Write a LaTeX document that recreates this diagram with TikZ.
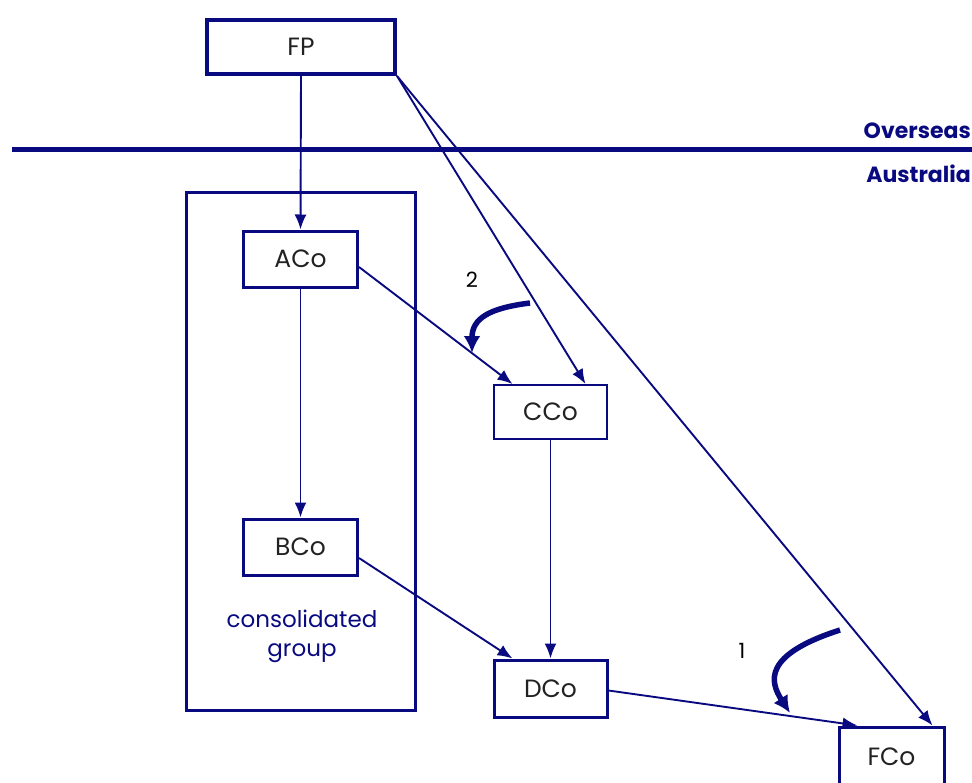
\documentclass[tikz,border=0pt]{standalone}
\usepackage{fontspec}
\setmainfont{Poppins}
\usetikzlibrary{arrows.meta}
\definecolor{navyline}{RGB}{10,10,128}
\definecolor{labeltext}{RGB}{34,34,34}

\begin{document}
\begin{tikzpicture}[x=1pt, y=-1pt,
  every node/.style = {font=\fontsize{25}{30}\selectfont, text=labeltext},
  company/.style = {shape=rectangle, draw=navyline, line width=3pt,
    minimum width=114pt, minimum height=56pt, inner sep=0pt},
  link/.style = {draw=navyline, line width=1.9pt, -{Latex[length=15pt,width=12pt]}},
  steparrow/.style = {draw=navyline, line width=5.5pt, -{Latex[length=17pt,width=17pt]}}]
    \tikzstyle{region}=[font=\bfseries\fontsize{22}{26}\selectfont, text=navyline, anchor=base east, inner sep=0pt]
  \useasboundingbox (0,0) rectangle (972,782);
  \clip (0,0) rectangle (972,782);
  % group box and border line
  \node [company, minimum width=229pt, minimum height=518pt] (group) at (300.5,451) {};
  \draw [navyline, line width=5pt] (12,149) -- (972,149);
  \node [region] (overseas) at (971,138) {Overseas};
  \node [region] (australia) at (971,182) {Australia};
  % companies
  \node [company, line width=4pt, minimum width=188pt, minimum height=54pt] (FP) at (301,47) {FP};
  \node [company] (ACo) at (300.5,259) {ACo};
  \node [company] (BCo) at (300.5,547) {BCo};
  \node [company, line width=2pt, minimum width=113pt, minimum height=54pt] (CCo) at (550.5,412) {CCo};
  \node [company, minimum width=113pt, minimum height=57pt] (DCo) at (550.5,688.5) {DCo};
  \node [company, minimum width=105pt, minimum height=60pt] (FCo) at (891.5,757) {FCo};
  \node [text=navyline, align=center, font=\fontsize{23}{29}\selectfont] (grouplabel) at (302,636) {consolidated\\group};
  % holdings
  \draw [link] (FP.south) -- (ACo.north);
  \draw [link] (FP.south east) -- ([xshift=35pt]CCo.north);
  \draw [link] (FP.south east) -- ([xshift=41pt]FCo.north);
  \draw [link] ([yshift=-8pt]ACo.east) -- ([xshift=-38pt]CCo.north);
  \draw [link] (ACo.south) -- (BCo.north);
  \draw [link] ([yshift=-11pt]BCo.east) -- ([xshift=-38pt]DCo.north);
  \draw [link] (CCo.south) -- (DCo.north);
  \draw [link] ([yshift=-2pt]DCo.east) -- ([xshift=-34pt]FCo.north);
  % steps
  \coordinate (twostart) at (530,303);
  \coordinate (twoend) at (472,353);
  \coordinate (onestart) at (840,630);
  \coordinate (oneend) at (790,713);
  \draw [steparrow] (twostart) .. controls (490,308) and (472,318) .. (twoend);
  \draw [steparrow] (onestart) .. controls (762,655) and (770,682) .. (oneend);
  \node [text=black, font=\fontsize{21}{24}\selectfont] (two) at (472,280) {2};
  \node [text=black, font=\fontsize{21}{24}\selectfont] (one) at (742,651) {1};
\end{tikzpicture}
\end{document}
